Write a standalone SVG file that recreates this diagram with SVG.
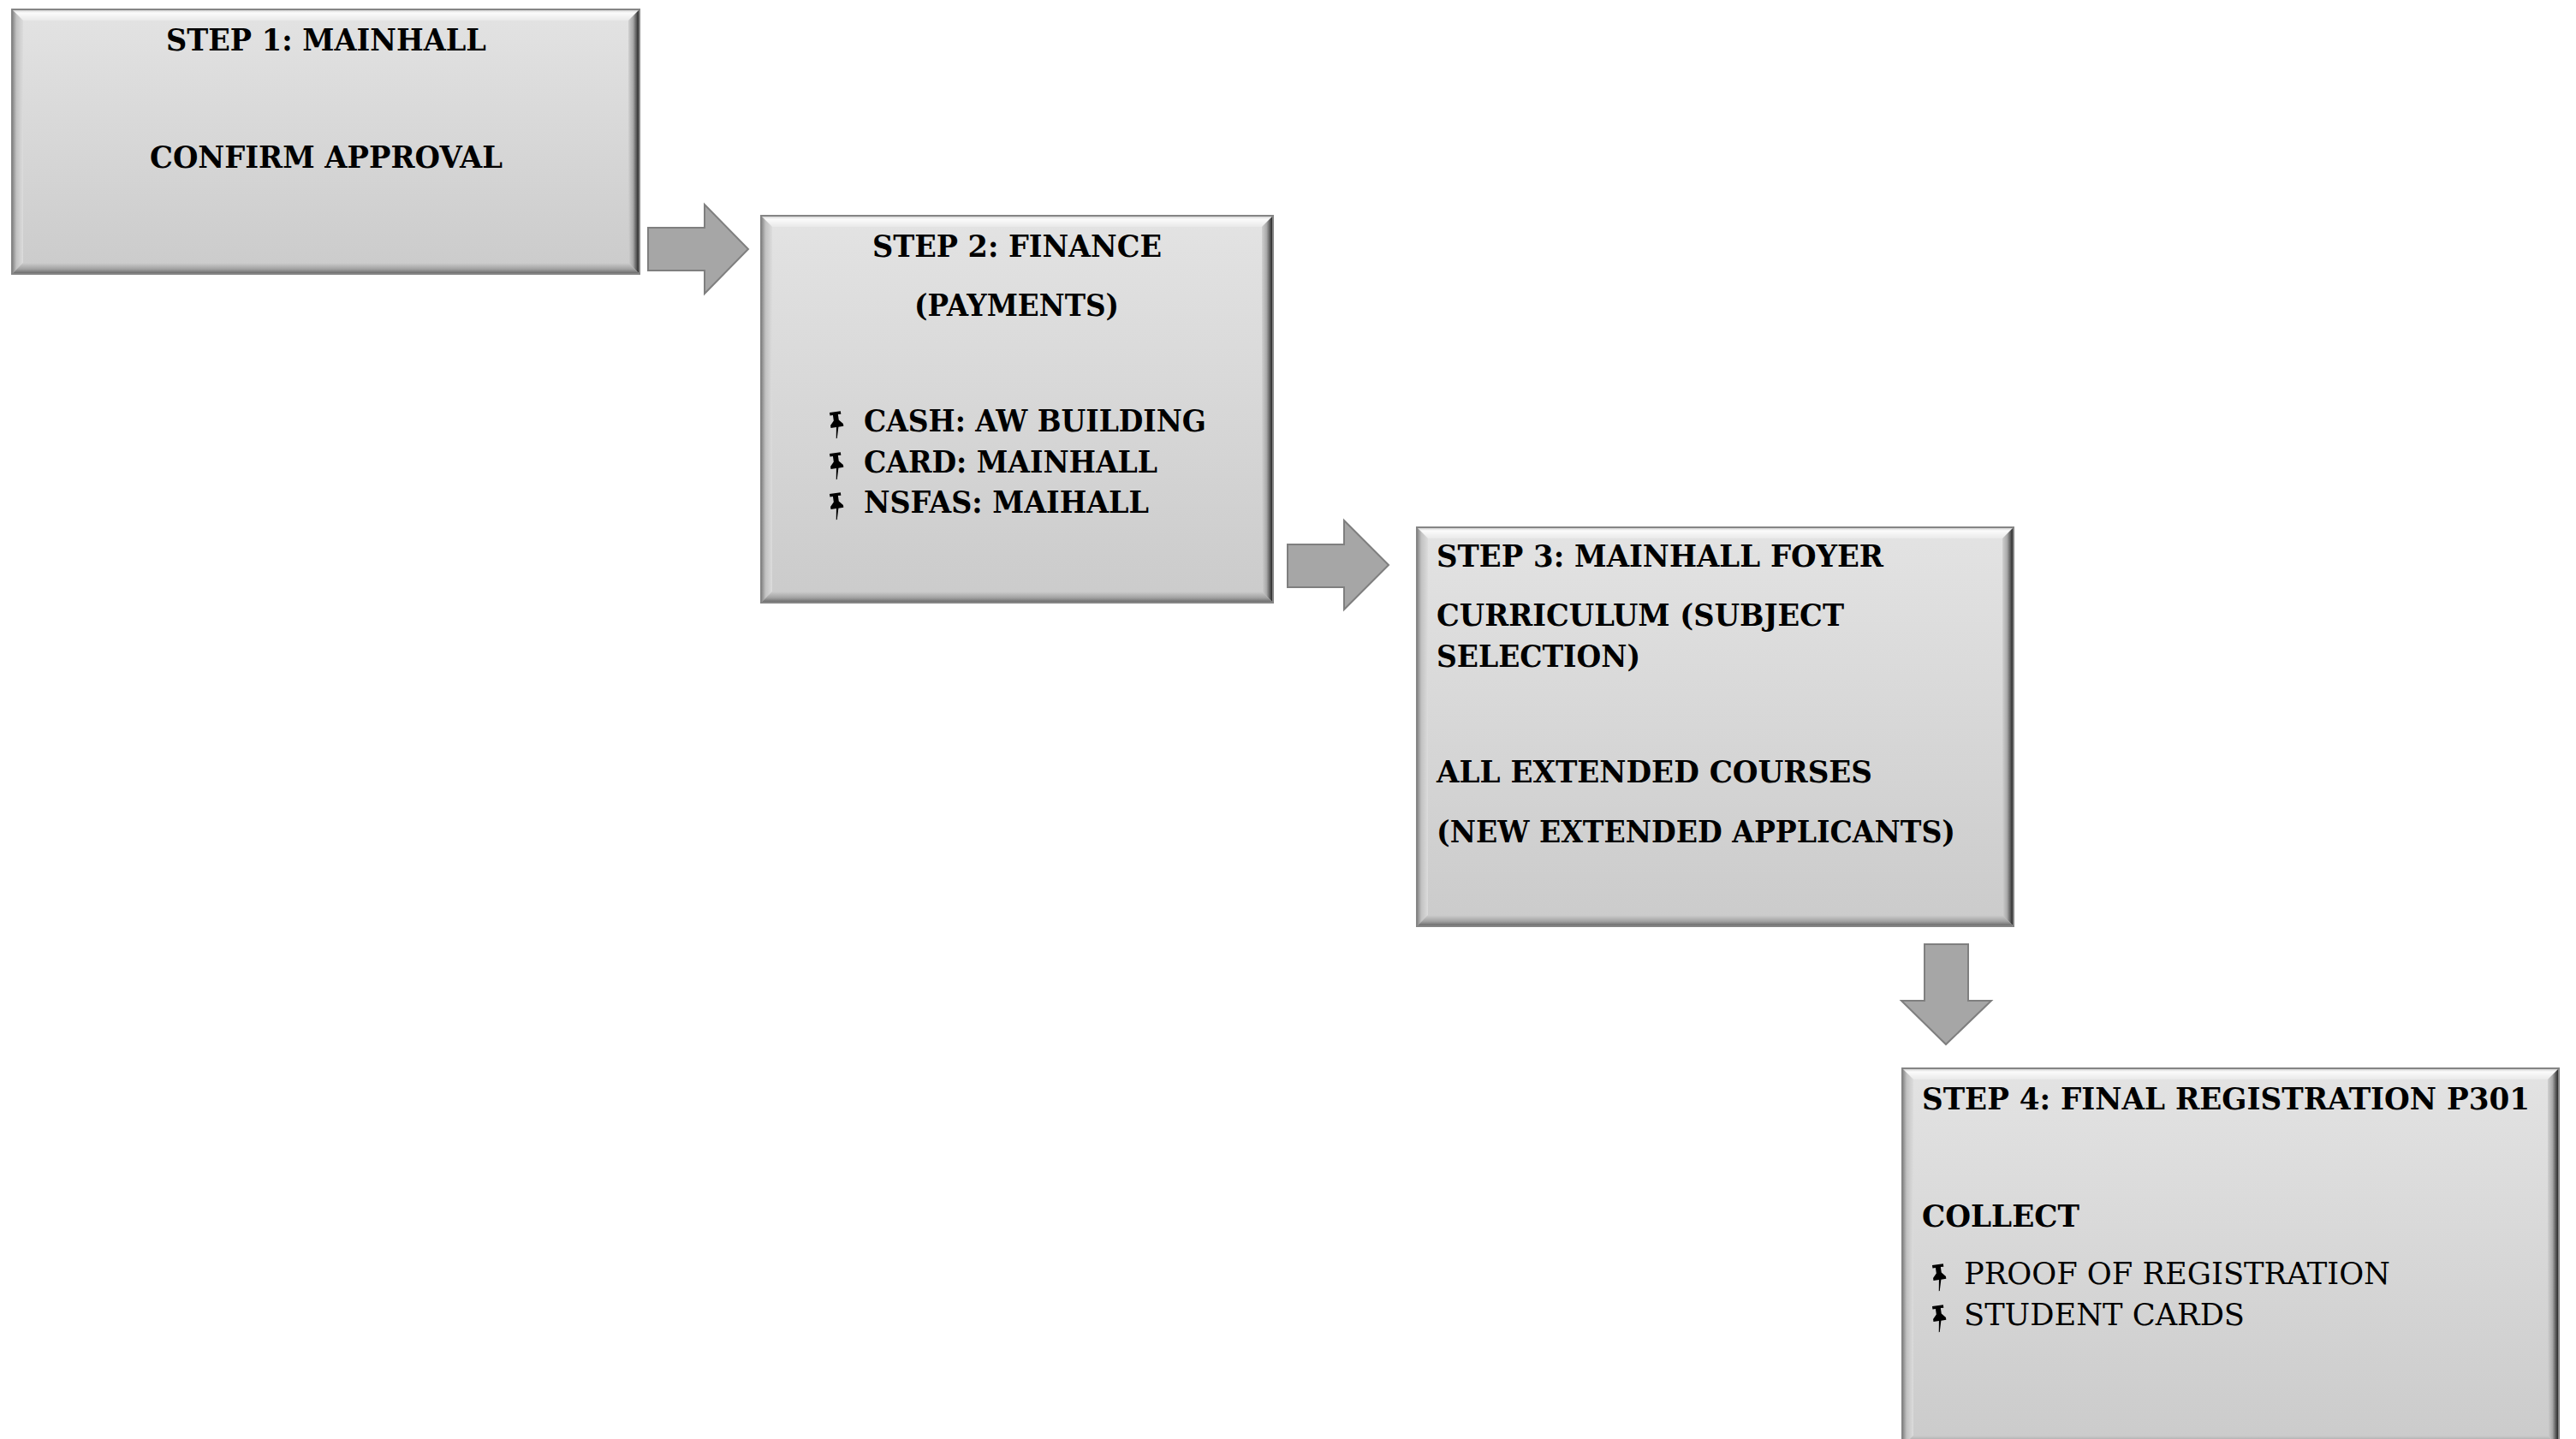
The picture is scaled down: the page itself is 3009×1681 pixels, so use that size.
<svg xmlns="http://www.w3.org/2000/svg" width="3009" height="1681" viewBox="0 0 3009 1681">
<defs>
<linearGradient id="gFace" x1="0" y1="0" x2="0" y2="1"><stop offset="0" stop-color="#e3e3e3"/><stop offset="1" stop-color="#cbcbcb"/></linearGradient>
<linearGradient id="gTop" x1="0" y1="0" x2="0" y2="1"><stop offset="0" stop-color="#d6d6d6"/><stop offset="0.25" stop-color="#fbfbfb"/><stop offset="1" stop-color="#e9e9e9"/></linearGradient>
<linearGradient id="gLeft" x1="0" y1="0" x2="1" y2="0"><stop offset="0" stop-color="#8c8c8c"/><stop offset="0.35" stop-color="#c2c2c2"/><stop offset="1" stop-color="#dcdcdc"/></linearGradient>
<linearGradient id="gRight" x1="0" y1="0" x2="1" y2="0"><stop offset="0" stop-color="#d0d0d0"/><stop offset="0.45" stop-color="#a9a9a9"/><stop offset="0.8" stop-color="#575757"/><stop offset="1" stop-color="#2a2a2a"/></linearGradient>
<linearGradient id="gBottom" x1="0" y1="0" x2="0" y2="1"><stop offset="0" stop-color="#cdcdcd"/><stop offset="0.6" stop-color="#a3a3a3"/><stop offset="1" stop-color="#6e6e6e"/></linearGradient>
<path id="pin" d="M2,0 H15 V3.5 H11.5 V10 L16,15 V18 H10 L6.5,31 L5.5,31 L7.5,18 H1 V15 L5.5,10 V3.5 H2 Z" fill="#000" transform="rotate(-8 8 15)"/>
</defs>
<style>
.face{fill:url(#gFace);stroke:#858585;stroke-width:2}
.bt{fill:url(#gTop)}
.bl{fill:url(#gLeft)}
.br{fill:url(#gRight)}
.bb{fill:url(#gBottom)}
.t{font-family:"DejaVu Serif","Liberation Serif",serif;font-size:36px;font-weight:bold;fill:#000}
.r{font-weight:normal}
.arrow{fill:#a6a6a6;stroke:#7f7f7f;stroke-width:2;stroke-linejoin:miter}
</style>

<g id="connectors">
<polygon class="arrow" points="757,266 823,266 823,239 874,291 823,343 823,316 757,316"/>
<polygon class="arrow" points="1504,636 1570,636 1570,608 1622,660 1570,712 1570,686 1504,686"/>
<polygon class="arrow" points="2248,1103 2299,1103 2299,1169 2326,1169 2273,1220 2221,1169 2248,1169"/>
</g>

<g id="step1">
<rect class="face" x="14" y="11" width="733" height="309"/>
<polygon class="bt" points="15,12 746,12 734,24 27,24"/>
<polygon class="bl" points="15,12 27,24 27,307 15,319"/>
<polygon class="br" points="746,12 746,319 734,307 734,24"/>
<polygon class="bb" points="15,319 27,307 734,307 746,319"/>
<text class="t" x="194" y="59" textLength="374" lengthAdjust="spacingAndGlyphs">STEP 1: MAINHALL</text>
<text class="t" x="175" y="196" textLength="412" lengthAdjust="spacingAndGlyphs">CONFIRM APPROVAL</text>
</g>

<g id="step2">
<rect class="face" x="889" y="252" width="598" height="452"/>
<polygon class="bt" points="890,253 1486,253 1474,265 902,265"/>
<polygon class="bl" points="890,253 902,265 902,691 890,703"/>
<polygon class="br" points="1486,253 1486,703 1474,691 1474,265"/>
<polygon class="bb" points="890,703 902,691 1474,691 1486,703"/>
<text class="t" x="1019" y="300" textLength="338" lengthAdjust="spacingAndGlyphs">STEP 2: FINANCE</text>
<text class="t" x="1068" y="369" textLength="239" lengthAdjust="spacingAndGlyphs">(PAYMENTS)</text>
<use href="#pin" x="969" y="481"/>
<text class="t" x="1009" y="504" textLength="400" lengthAdjust="spacingAndGlyphs">CASH: AW BUILDING</text>
<use href="#pin" x="969" y="529"/>
<text class="t" x="1009" y="552" textLength="343" lengthAdjust="spacingAndGlyphs">CARD: MAINHALL</text>
<use href="#pin" x="969" y="576"/>
<text class="t" x="1009" y="599" textLength="333" lengthAdjust="spacingAndGlyphs">NSFAS: MAIHALL</text>
</g>

<g id="step3">
<rect class="face" x="1655" y="616" width="697" height="466"/>
<polygon class="bt" points="1656,617 2351,617 2339,629 1668,629"/>
<polygon class="bl" points="1656,617 1668,629 1668,1069 1656,1081"/>
<polygon class="br" points="2351,617 2351,1081 2339,1069 2339,629"/>
<polygon class="bb" points="1656,1081 1668,1069 2339,1069 2351,1081"/>
<text class="t" x="1678" y="662" textLength="522" lengthAdjust="spacingAndGlyphs">STEP 3: MAINHALL FOYER</text>
<text class="t" x="1678" y="731" textLength="476" lengthAdjust="spacingAndGlyphs">CURRICULUM (SUBJECT</text>
<text class="t" x="1678" y="779" textLength="238" lengthAdjust="spacingAndGlyphs">SELECTION)</text>
<text class="t" x="1678" y="914" textLength="509" lengthAdjust="spacingAndGlyphs">ALL EXTENDED COURSES</text>
<text class="t" x="1678" y="984" textLength="606" lengthAdjust="spacingAndGlyphs">(NEW EXTENDED APPLICANTS)</text>
</g>

<g id="step4">
<rect class="face" x="2222" y="1248" width="767" height="442"/>
<polygon class="bt" points="2223,1249 2988,1249 2976,1261 2235,1261"/>
<polygon class="bl" points="2223,1249 2235,1261 2235,1677 2223,1689"/>
<polygon class="br" points="2988,1249 2988,1689 2976,1677 2976,1261"/>
<polygon class="bb" points="2223,1689 2235,1677 2976,1677 2988,1689"/>
<text class="t" x="2245" y="1296" textLength="710" lengthAdjust="spacingAndGlyphs">STEP 4: FINAL REGISTRATION P301</text>
<text class="t" x="2245" y="1433" textLength="184" lengthAdjust="spacingAndGlyphs">COLLECT</text>
<use href="#pin" x="2257" y="1477"/>
<text class="t r" x="2294" y="1500" textLength="498" lengthAdjust="spacingAndGlyphs">PROOF OF REGISTRATION</text>
<use href="#pin" x="2257" y="1525"/>
<text class="t r" x="2294" y="1548" textLength="328" lengthAdjust="spacingAndGlyphs">STUDENT CARDS</text>
</g>
</svg>
